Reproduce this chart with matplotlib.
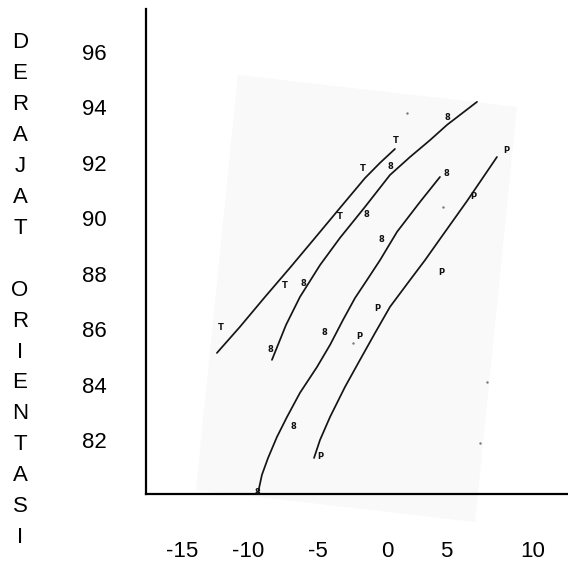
import matplotlib
matplotlib.use("Agg")
import matplotlib.pyplot as plt
from matplotlib.patches import Polygon

plt.rcParams['font.family'] = ['Liberation Sans', 'DejaVu Sans']

# ---- data ----
x_tick_pos = [-15, -10.22, -5.25, -0.23, 4.02, 10.2]
x_tick_labels = ['-15', '-10', '-5', '0', '5', '10']
y_ticks = [82, 84, 86, 88, 90, 92, 94, 96]
ylabel_letters = list("DERAJAT") + [" "] + list("ORIENTASI")

curve_a_x = [-12.47, -10.82, -9.02, -7.23, -5.43, -3.64, -1.84, -0.76, 0.31]
curve_a_y = [85.14, 86.08, 87.16, 88.21, 89.29, 90.37, 91.45, 92.00, 92.50]
curve_b_x = [-8.52, -7.51, -6.51, -5.07, -3.64, -1.84, -0.05, 1.39, 2.83, 4.05, 6.20]
curve_b_y = [84.89, 86.15, 87.16, 88.31, 89.29, 90.41, 91.56, 92.21, 92.82, 93.37, 94.20]
curve_c_x = [-9.52, -9.24, -8.80, -8.16, -7.44, -6.51, -5.29, -4.35, -3.42, -2.56, -1.70, -0.76, 0.46, 2.11, 3.54]
curve_c_y = [80.09, 80.74, 81.35, 82.11, 82.83, 83.70, 84.63, 85.43, 86.33, 87.12, 87.77, 88.49, 89.51, 90.59, 91.49]
curve_d_x = [-5.50, -5.07, -4.35, -3.28, -2.20, -1.12, -0.05, 1.39, 2.47, 3.54, 5.48, 7.63]
curve_d_y = [81.35, 82.00, 82.83, 83.91, 84.89, 85.86, 86.80, 87.77, 88.49, 89.25, 90.62, 92.21]

mark_a_x = [-12.18, -7.58, -3.64, -1.98, 0.38]
mark_a_y = [86.04, 87.56, 90.08, 91.81, 92.79]
mark_b_x = [-8.66, -6.29, -1.77, -0.05, 4.05]
mark_b_y = [85.25, 87.66, 90.12, 91.85, 93.65]
mark_c_x = [-9.59, -7.01, -4.78, -0.69, 3.97]
mark_c_y = [80.12, 82.47, 85.86, 89.22, 91.63]
mark_d_x = [-5.07, -2.27, -0.98, 3.61, 5.91, 8.28]
mark_d_y = [81.39, 85.75, 86.73, 88.06, 90.77, 92.46]
stray_x = [6.92, 6.42, 3.76, 1.17, -2.70]
stray_y = [84.09, 81.89, 90.41, 93.80, 85.50]

scan_x = [-10.96, 9.07, 6.06, -13.97]
scan_y = [95.17, 94.02, 79.04, 80.20]

# ---- figure ----
fig = plt.figure(figsize=(5.68, 5.64), dpi=100)
ax = fig.add_axes([146/568, 70/564, 422/568, 485/564])
ax.set_xlim(-17.56, 12.73)
ax.set_ylim(80.05, 97.55)

ax.add_patch(Polygon(list(zip(scan_x, scan_y)), closed=True,
                     facecolor='#f9f9f9', edgecolor='none', zorder=0, clip_on=False))

for cx, cy in [(curve_a_x, curve_a_y), (curve_b_x, curve_b_y),
               (curve_c_x, curve_c_y), (curve_d_x, curve_d_y)]:
    ax.plot(cx, cy, color='#151515', lw=1.25, solid_capstyle='round', zorder=2)

for mx, my, glyph in [(mark_a_x, mark_a_y, 'T'), (mark_b_x, mark_b_y, '8'),
                      (mark_c_x, mark_c_y, '8'), (mark_d_x, mark_d_y, 'P')]:
    for xx, yy in zip(mx, my):
        ax.text(xx, yy, glyph, fontsize=6, fontweight='bold', color='#111',
                ha='center', va='center', zorder=3, family='DejaVu Sans')

ax.scatter(stray_x, stray_y, s=3, color='#777', zorder=2, linewidths=0)

for s in ['top', 'right']:
    ax.spines[s].set_visible(False)
for s in ['left', 'bottom']:
    ax.spines[s].set_linewidth(1.6)
    ax.spines[s].set_color('black')

ax.set_xticks(x_tick_pos)
ax.set_xticklabels(x_tick_labels)
ax.set_yticks(y_ticks)
ax.set_yticklabels([str(v) for v in y_ticks])
ax.tick_params(axis='x', length=0, pad=34, labelsize=16)
ax.tick_params(axis='y', length=0, pad=28, labelsize=16)

# stacked vertical axis title
top_px, step_px = 43, 30.9
for i, ch in enumerate(ylabel_letters):
    fig.text(20/568, 1 - (top_px + i*step_px)/564, ch, fontsize=16,
             ha='center', va='center')

fig.savefig('out.png', dpi=100)
